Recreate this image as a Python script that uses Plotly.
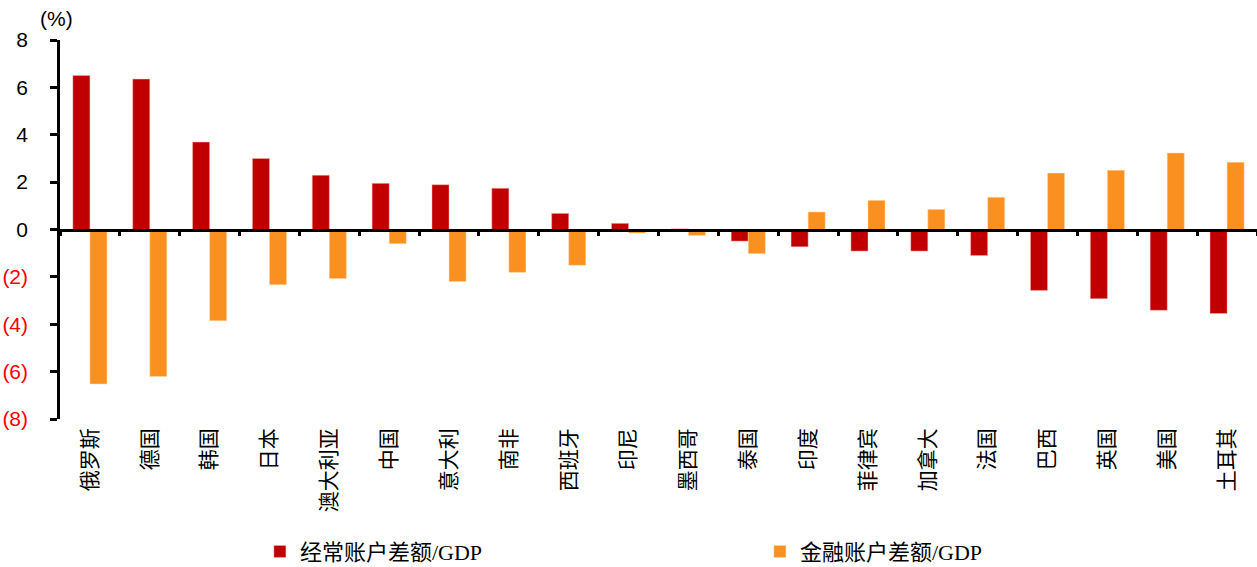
import plotly.graph_objects as go

categories = ["俄罗斯", "德国", "韩国", "日本", "澳大利亚", "中国", "意大利", "南非", "西班牙", "印尼",
              "墨西哥", "泰国", "印度", "菲律宾", "加拿大", "法国", "巴西", "英国", "美国", "土耳其"]
current_account = [6.5, 6.35, 3.69, 3.0, 2.29, 1.95, 1.89, 1.74, 0.68, 0.26,
                   0.03, -0.49, -0.73, -0.91, -0.91, -1.1, -2.57, -2.92, -3.41, -3.55]
financial_account = [-6.52, -6.21, -3.85, -2.33, -2.07, -0.6, -2.2, -1.81, -1.51, -0.15,
                     -0.25, -1.02, 0.74, 1.23, 0.85, 1.36, 2.38, 2.5, 3.23, 2.84]
series_names = ["经常账户差额/GDP", "金融账户差额/GDP"]
y_tickvals = [8, 6, 4, 2, 0, -2, -4, -6, -8]
y_ticktext = ["8", "6", "4", "2", "0",
              "<span style='color:#FF0000'>(2)</span>",
              "<span style='color:#FF0000'>(4)</span>",
              "<span style='color:#FF0000'>(6)</span>",
              "<span style='color:#FF0000'>(8)</span>"]

RED = "#C00000"
ORANGE = "#F99020"
SERIF = "Liberation Serif, Noto Sans CJK SC, serif"

fig = go.Figure()
fig.add_trace(go.Bar(x=categories, y=current_account, name=series_names[0],
                     marker=dict(color=RED, line=dict(width=0.6, color="rgba(255,180,180,0.8)"))))
fig.add_trace(go.Bar(x=categories, y=financial_account, name=series_names[1],
                     marker=dict(color=ORANGE, line=dict(width=0.6, color="rgba(255,220,180,0.8)"))))
# helper trace for the zero-line axis with category boundary ticks
fig.add_trace(go.Scatter(x=categories, y=[0] * len(categories), xaxis="x2", mode="markers",
                         marker=dict(opacity=0), showlegend=False, hoverinfo="skip"))

n = len(categories)
fig.update_layout(
    width=1257, height=567,
    margin=dict(l=60, r=0, t=40, b=148, autoexpand=False),
    plot_bgcolor="white", paper_bgcolor="white",
    barmode="group", bargap=0.43, bargroupgap=0,
    xaxis=dict(type="category", categoryarray=categories, range=[-0.5, n - 0.5],
               showline=False, ticks="", tickangle=-90, showgrid=False, automargin=False,
               ticklabelstandoff=4,
               tickfont=dict(family="Noto Sans CJK SC", size=21, color="black")),
    xaxis2=dict(type="category", categoryarray=categories, range=[-0.5, n - 0.5],
                overlaying="x", anchor="free", position=0.5, side="bottom",
                showline=True, linecolor="black", linewidth=2.5, automargin=False,
                ticks="outside", tickson="boundaries", ticklen=5, tickwidth=2.5, tickcolor="black",
                showticklabels=False, showgrid=False),
    yaxis=dict(range=[-8, 8], tickvals=y_tickvals, ticktext=y_ticktext,
               showline=True, linecolor="black", linewidth=2.5, automargin=False,
               ticks="outside", ticklen=7, tickwidth=2.5, tickcolor="black",
               showgrid=False, zeroline=False, ticklabelstandoff=18,
               tickfont=dict(family="Liberation Sans, Arial", size=21, color="black")),
    legend=dict(orientation="h", x=0.167, y=-0.35, xanchor="left", yanchor="middle",
                entrywidth=455, entrywidthmode="pixels", tracegroupgap=0,
                font=dict(family=SERIF, size=22, color="black")),
    annotations=[dict(text="(%)", xref="paper", yref="paper", x=-0.003, y=1.058,
                      xanchor="center", yanchor="middle", showarrow=False,
                      font=dict(family="Liberation Sans, Arial", size=21, color="black"))],
)

fig.write_html("out.html", config={"displayModeBar": False},
               post_script="document.body.style.margin='0';document.body.style.overflow='hidden';")
